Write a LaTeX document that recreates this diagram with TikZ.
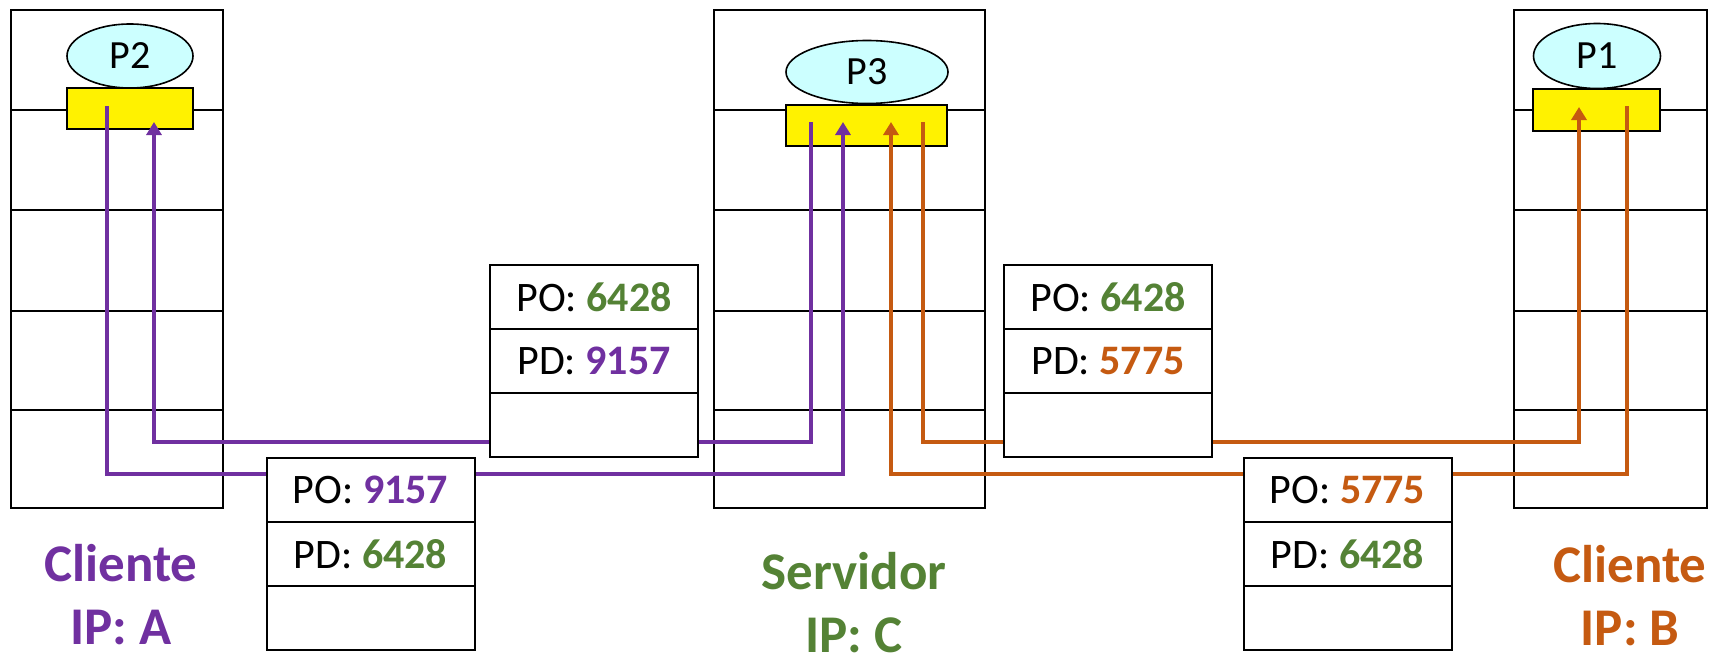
\documentclass[tikz,border=0pt]{standalone}
\usepackage{fontspec}
\setmainfont{Carlito}
\usetikzlibrary{positioning, arrows.meta, shapes.geometric}
\definecolor{cliA}{HTML}{7030A0}
\definecolor{cliB}{HTML}{C55A11}
\definecolor{serv}{HTML}{548235}
\definecolor{proccol}{HTML}{CCFFFF}

\begin{document}
\begin{tikzpicture}[x=0.5pt, y=-0.5pt,
    every node/.style={align=center},
    proc/.style={ellipse, draw, fill=proccol, line width=0.8pt, inner sep=0pt,
      font=\fontsize{20}{24}\selectfont},
    sock/.style={draw, fill=yellow, line width=0.8pt, inner sep=0pt},
    pkt/.style={draw, fill=white, line width=1pt, outer sep=0pt, inner sep=0pt,
      minimum width=104pt, minimum height=32pt, font=\fontsize{21}{25}\selectfont},
    hostlbl/.style={inner sep=0pt, font=\fontsize{26.5}{31.5}\selectfont\bfseries},
    flow/.style={line width=2pt, -{Triangle[width=7.5pt, length=6.5pt]}}]
    \useasboundingbox (0,0) rectangle (1720,664);

    % hosts
    \foreach \xa/\xb in {11/223, 714/985, 1514/1707} {
      \draw[line width=1pt] (\xa,10) rectangle (\xb,508);
      \foreach \yy in {110, 210, 311, 410}
        \draw[line width=1pt] (\xa,\yy) -- (\xb,\yy);
    }

    % processes and sockets
    \node[proc, minimum width=63pt, minimum height=32pt] (P2) at (130,56) {P2};
    \node[proc, minimum width=81pt, minimum height=31.5pt] (P3) at (867,72) {P3};
    \node[proc, minimum width=63.5pt, minimum height=32.5pt] (P1) at (1597,56) {P1};
    \node[sock, minimum width=63pt, minimum height=20.5pt] (sockA) at (130,108.5) {};
    \node[sock, minimum width=80.5pt, minimum height=20.5pt] (sockC) at (866.5,125.5) {};
    \node[sock, minimum width=63.5pt, minimum height=21pt] (sockB) at (1596.5,110) {};

    \coordinate (aOut) at (107,106);
    \coordinate (aIn)  at (154,122);
    \coordinate (cOutA) at (811,122);
    \coordinate (cInA)  at (843,122);
    \coordinate (cInB)  at (891,122);
    \coordinate (cOutB) at (923,122);
    \coordinate (bIn)  at (1579,107);
    \coordinate (bOut) at (1627,106);
    \coordinate (high) at (0,442);
    \coordinate (low)  at (0,474);

    % flows
    \draw[flow, cliA] (aOut) -- (aOut |- low) -| (cInA);
    \draw[flow, cliA] (cOutA) -- (cOutA |- high) -| (aIn);
    \draw[flow, cliB] (cOutB) -- (cOutB |- high) -| (bIn);
    \draw[flow, cliB] (bOut) -- (bOut |- low) -| (cInB);

    % segments
    \node[pkt] (segCA) at (594,297) {PO: \textbf{\color{serv}6428}};
    \node[pkt, below=0pt of segCA] (segCAd) {PD: \textbf{\color{cliA}9157}};
    \node[pkt, below=0pt of segCAd] (segCAx) {};
    \node[pkt] (segAC) at (370.5,490) {PO: \textbf{\color{cliA}9157}};
    \node[pkt, below=0pt of segAC] (segACd) {PD: \textbf{\color{serv}6428}};
    \node[pkt, below=0pt of segACd] (segACx) {};
    \node[pkt] (segCB) at (1108,297) {PO: \textbf{\color{serv}6428}};
    \node[pkt, below=0pt of segCB] (segCBd) {PD: \textbf{\color{cliB}5775}};
    \node[pkt, below=0pt of segCBd] (segCBx) {};
    \node[pkt] (segBC) at (1347.5,490) {PO: \textbf{\color{cliB}5775}};
    \node[pkt, below=0pt of segBC] (segBCd) {PD: \textbf{\color{serv}6428}};
    \node[pkt, below=0pt of segBCd] (segBCx) {};

    \node[hostlbl, text=cliA] (lblA) at (121,595) {Cliente\\IP: A};
    \node[hostlbl, text=serv] (lblC) at (854,603) {Servidor\\IP: C};
    \node[hostlbl, text=cliB] (lblB) at (1630,596) {Cliente\\IP: B};
\end{tikzpicture}
\end{document}
